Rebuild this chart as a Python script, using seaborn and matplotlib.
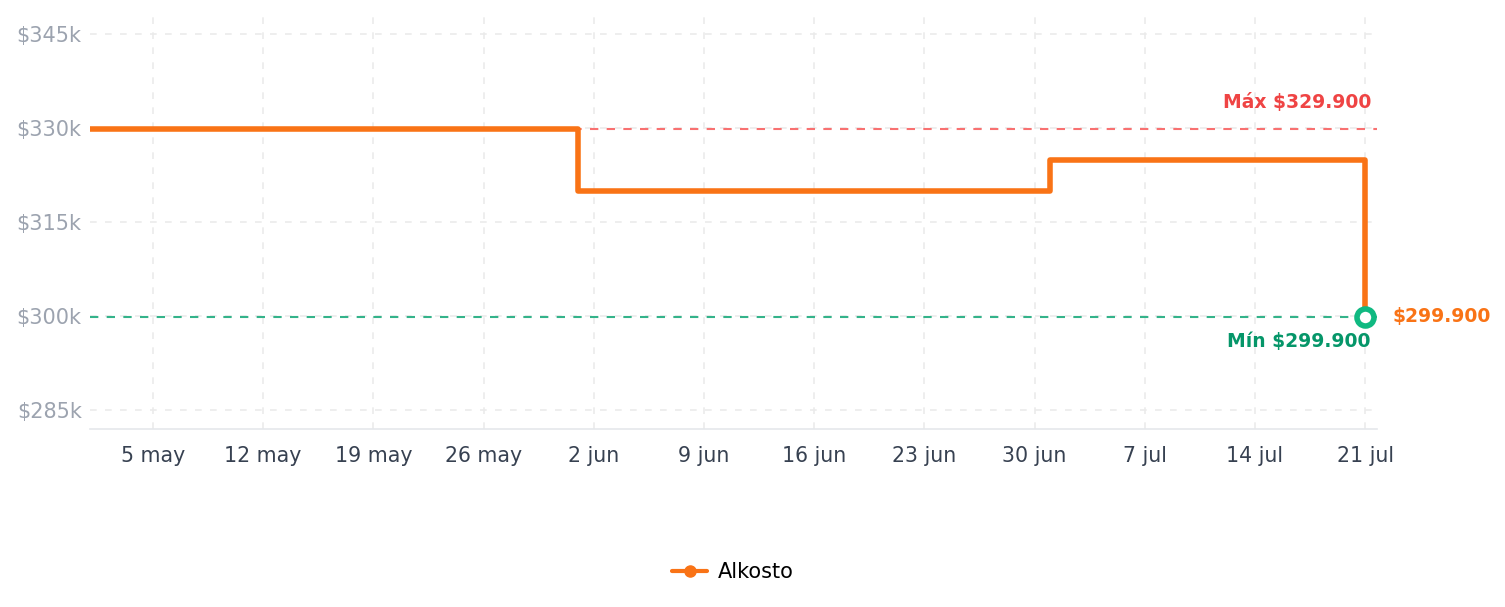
import pandas as pd
import matplotlib.pyplot as plt
from matplotlib.lines import Line2D
import seaborn as sns

# price history (step changes)
dates = ['2024-05-01', '2024-06-01', '2024-07-01', '2024-07-21']
prices = [329900, 319900, 324900, 299900]
store = 'Alkosto'

tick_dates = ['2024-05-05', '2024-05-12', '2024-05-19', '2024-05-26', '2024-06-02', '2024-06-09',
              '2024-06-16', '2024-06-23', '2024-06-30', '2024-07-07', '2024-07-14', '2024-07-21']
tick_labels = ['5 may', '12 may', '19 may', '26 may', '2 jun', '9 jun',
               '16 jun', '23 jun', '30 jun', '7 jul', '14 jul', '21 jul']
y_ticks = [285000, 300000, 315000, 330000, 345000]
y_labels = ['$285k', '$300k', '$315k', '$330k', '$345k']

data = pd.DataFrame({'date': pd.to_datetime(dates), 'price': prices})

orange = '#f97316'
sns.set_style('white')
plt.rcParams['font.family'] = ['DejaVu Sans']

fig = plt.figure(figsize=(15.05, 6.07), dpi=100)
ax = fig.add_axes([90 / 1505, 1 - 429 / 607, (1377 - 90) / 1505, (429 - 15) / 607])

max_p = data['price'].max()
min_p = data['price'].min()
ax.axhline(max_p, color='#f87171', linestyle=(0, (4, 4)), linewidth=1.5, zorder=1)
ax.axhline(min_p, color='#34b38a', linestyle=(0, (4, 4)), linewidth=1.5, zorder=1)

sns.lineplot(x='date', y='price', data=data, drawstyle='steps-post', color=orange,
             linewidth=4, ax=ax, zorder=3)

# last price marker
last = data.iloc[-1]
ax.scatter([last['date']], [last['price']], s=150, facecolor='white', edgecolor='#10b981',
           linewidth=4, zorder=4)

ax.set_xlim(pd.Timestamp('2024-05-01'), pd.Timestamp('2024-07-21 18:00'))
ax.set_ylim(282000, 348000)
ax.set_xticks(pd.to_datetime(tick_dates))
ax.set_xticklabels(tick_labels)
ax.set_yticks(y_ticks)
ax.set_yticklabels(y_labels)
ax.tick_params(axis='x', colors='#374151', labelsize=14.8, length=0, pad=12)
ax.tick_params(axis='y', colors='#9ca3af', labelsize=15, length=0, pad=6)
ax.grid(True, color='#ebebeb', linestyle=(0, (4, 5)), linewidth=1.2)
ax.set_xlabel('')
ax.set_ylabel('')
for s in ['top', 'right', 'left']:
    ax.spines[s].set_visible(False)
ax.spines['bottom'].set_color('#e5e7eb')
ax.spines['bottom'].set_linewidth(1.2)

ax.annotate('Máx $329.900', xy=(1, max_p), xycoords=('axes fraction', 'data'),
            xytext=(-4, 12), textcoords='offset points', ha='right', va='bottom',
            color='#ef4444', fontsize=13.5, fontweight='bold')
ax.annotate('Mín $299.900', xy=(last['date'], min_p), xytext=(4, -11), textcoords='offset points',
            ha='right', va='top', color='#059669', fontsize=13.5, fontweight='bold')
ax.annotate('$299.900', xy=(last['date'], min_p), xytext=(20, 0), textcoords='offset points',
            ha='left', va='center', color=orange, fontsize=13.5, fontweight='bold',
            annotation_clip=False)

handle = Line2D([], [], color=orange, linewidth=3, marker='o', markersize=8)
leg = fig.legend([handle], [store], loc='center', bbox_to_anchor=(0.487, 0.057), frameon=False,
                 fontsize=15, handlelength=1.7, handletextpad=0.5)
for t in leg.get_texts():
    t.set_color('black')

plt.savefig('out.png', dpi=100)
